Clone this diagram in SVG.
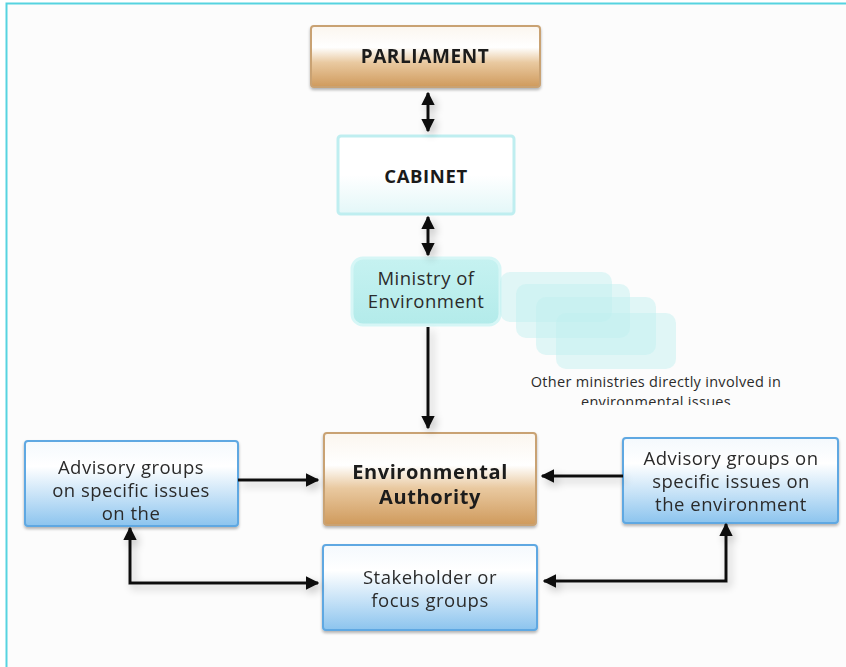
<svg xmlns="http://www.w3.org/2000/svg" width="846" height="667" viewBox="0 0 846 667">
<defs>
  <linearGradient id="gOrange" x1="0" y1="0" x2="0" y2="1">
    <stop offset="0" stop-color="#fbf6ef"/>
    <stop offset="0.35" stop-color="#ffffff"/>
    <stop offset="0.6" stop-color="#e9c9a0"/>
    <stop offset="1" stop-color="#cf9a5c"/>
  </linearGradient>
  <linearGradient id="gBlue" x1="0" y1="0" x2="0" y2="1">
    <stop offset="0" stop-color="#f4f9fd"/>
    <stop offset="0.3" stop-color="#ffffff"/>
    <stop offset="0.65" stop-color="#c6e2f7"/>
    <stop offset="1" stop-color="#8cc4ee"/>
  </linearGradient>
  <linearGradient id="gCab" x1="0" y1="0" x2="0" y2="1">
    <stop offset="0" stop-color="#ffffff"/>
    <stop offset="0.5" stop-color="#ffffff"/>
    <stop offset="1" stop-color="#e3f7f8"/>
  </linearGradient>
  <linearGradient id="gMin" x1="0" y1="0" x2="0" y2="1">
    <stop offset="0" stop-color="#c6f2f1"/>
    <stop offset="1" stop-color="#b3ebea"/>
  </linearGradient>
  <filter id="sh" x="-30%" y="-30%" width="160%" height="160%">
    <feGaussianBlur in="SourceAlpha" stdDeviation="4"/>
    <feOffset dx="3" dy="4"/>
    <feComponentTransfer><feFuncA type="linear" slope="0.25"/></feComponentTransfer>
    <feMerge><feMergeNode/><feMergeNode in="SourceGraphic"/></feMerge>
  </filter>
  <filter id="bsh" x="-10%" y="-10%" width="120%" height="130%">
    <feGaussianBlur in="SourceAlpha" stdDeviation="1.5"/>
    <feOffset dx="0" dy="2"/>
    <feComponentTransfer><feFuncA type="linear" slope="0.3"/></feComponentTransfer>
    <feMerge><feMergeNode/><feMergeNode in="SourceGraphic"/></feMerge>
  </filter>
  <marker id="ah" viewBox="0 0 10 10" refX="9" refY="5" markerWidth="4.6" markerHeight="4.6" orient="auto-start-reverse" markerUnits="strokeWidth">
    <path d="M0,0 L10,5 L0,10 Z" fill="#111"/>
  </marker>
  <clipPath id="clipTxt"><rect x="0" y="0" width="846" height="405"/></clipPath>
</defs>
<style>
  .t { font-family: "Open Sans", "Noto Sans", "Liberation Sans", sans-serif; fill: #2b2b2b; text-anchor: middle; }
  .b { font-weight: bold; fill: #1a1a1a; }
  .n { font-size: 18.5px; letter-spacing: 0.5px; }
  .conn path { fill: none; stroke: #111; stroke-width: 3; marker-end: url(#ah); }
  .conn path.bi { marker-start: url(#ah); }
  .box-o { fill: url(#gOrange); stroke: #c9a273; stroke-width: 2; }
  .box-b { fill: url(#gBlue); stroke: #5ea8e2; stroke-width: 2; }
  .ghost { fill: #bfeff0; fill-opacity: 0.45; }
</style>
<rect x="0" y="0" width="846" height="667" fill="#ffffff"/>
<rect x="6.5" y="3.5" width="850" height="680" fill="#fcfcfc" stroke="#56d3e0" stroke-width="2"/>

<g id="parliament" filter="url(#bsh)">
  <rect class="box-o" x="311" y="26" width="229" height="61" rx="3"/>
  <text class="t b" x="425" y="63" font-size="19" letter-spacing="0.6">PARLIAMENT</text>
</g>
<g id="cabinet">
  <rect x="338" y="136" width="176" height="78" rx="3" fill="url(#gCab)" stroke="#bfeef0" stroke-width="3"/>
  <text class="t b" x="426" y="183" font-size="18.5" letter-spacing="0.6">CABINET</text>
</g>
<g id="ministry">
  <rect x="352" y="258" width="148" height="67" rx="11" fill="url(#gMin)" stroke="#d6f6f6" stroke-width="3"/>
  <text class="t n" x="426" y="285">Ministry of</text>
  <text class="t n" x="426" y="308">Environment</text>
</g>
<g id="other-ministries">
  <rect class="ghost" x="500" y="272" width="112" height="50" rx="10"/>
  <rect class="ghost" x="516" y="284" width="114" height="54" rx="10"/>
  <rect class="ghost" x="536" y="297" width="120" height="58" rx="10"/>
  <rect class="ghost" x="556" y="313" width="120" height="56" rx="10"/>
  <g clip-path="url(#clipTxt)">
    <text class="t" x="656" y="387" font-size="14.5" letter-spacing="0.3">Other ministries directly involved in</text>
    <text class="t" x="656" y="407" font-size="14.5" letter-spacing="0.3">environmental issues</text>
  </g>
</g>
<g id="authority" filter="url(#bsh)">
  <rect class="box-o" x="324" y="433" width="212" height="92" rx="3"/>
  <text class="t b" x="430" y="479" font-size="20" letter-spacing="0.6">Environmental</text>
  <text class="t b" x="430" y="504" font-size="20" letter-spacing="0.6">Authority</text>
</g>
<g id="advisory-left" filter="url(#bsh)">
  <rect class="box-b" x="25" y="441" width="213" height="85" rx="3"/>
  <text class="t n" x="131" y="474">Advisory groups</text>
  <text class="t n" x="131" y="497">on specific issues</text>
  <text class="t n" x="131" y="520">on the</text>
</g>
<g id="advisory-right" filter="url(#bsh)">
  <rect class="box-b" x="623" y="438" width="215" height="85" rx="3"/>
  <text class="t n" x="731" y="465">Advisory groups on</text>
  <text class="t n" x="731" y="488">specific issues on</text>
  <text class="t n" x="731" y="511">the environment</text>
</g>
<g id="stakeholder" filter="url(#bsh)">
  <rect class="box-b" x="323" y="545" width="214" height="85" rx="3"/>
  <text class="t n" x="430" y="584">Stakeholder or</text>
  <text class="t n" x="430" y="607">focus groups</text>
</g>

<g id="connectors" class="conn" filter="url(#sh)">
  <path class="bi" d="M428,93 L428,131" />
  <path class="bi" d="M428,217 L428,255" />
  <path d="M428,327 L428,428" />
  <path d="M238,480 L318,480" />
  <path d="M623,476 L542,476" />
  <path class="bi" d="M130,528 L130,583 L318,583" />
  <path class="bi" d="M726,524 L726,581 L544,581" />
</g>
</svg>
